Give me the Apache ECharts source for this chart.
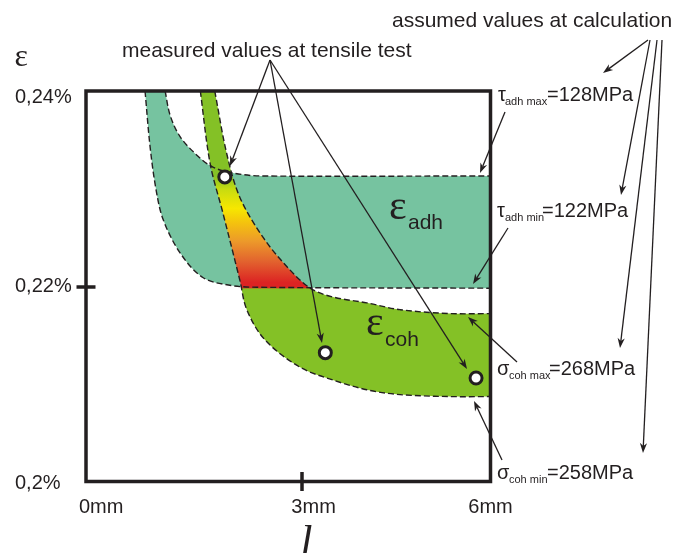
<!DOCTYPE html>
<html><head><meta charset="utf-8">
<script src="https://cdn.jsdelivr.net/npm/echarts@6/dist/echarts.min.js"></script>
<style>html,body{margin:0;padding:0;background:#fff}#c{width:684px;height:553px}</style>
</head><body><div id="c"></div>
<script>
// ---------- data (x: length l in mm, y: strain ε in %) ----------
const xTickValues = [0, 3, 6];
const xTickLabels = ['0mm', '3mm', '6mm'];
const yTickValues = [0.2, 0.22, 0.24];
const yTickLabels = ['0,2%', '0,22%', '0,24%'];

// boundary curves
const tauAdhMax = [[0.82,0.2400],[0.90,0.2375],[1.06,0.2353],[1.33,0.2334],[1.58,0.2322],[1.90,0.2316],[2.33,0.2313],[6.0,0.2313]];
const tauAdhMin = [[0.50,0.2400],[0.58,0.2343],[0.675,0.2299],[0.79,0.2268],[1.06,0.2234],[1.42,0.2209],[1.85,0.2201],[2.28,0.2199],[6.0,0.2198]];
const sigmaCohMax = [[1.61,0.2400],[1.80,0.2336],[2.01,0.2291],[2.38,0.2250],[2.76,0.2220],[3.13,0.2198],[3.49,0.2189],[4.03,0.2183],[4.56,0.2176],[5.36,0.2172],[6.0,0.2172]];
const sigmaCohMin = [[1.38,0.2400],[1.535,0.2326],[1.74,0.2275],[2.01,0.2206],[2.12,0.2176],[2.41,0.2145],[2.97,0.2117],[3.49,0.2104],[4.03,0.2094],[4.56,0.2089],[5.36,0.2087],[6.0,0.2087]];
// measured values at tensile test
const measured = [[1.77,0.2312],[3.37,0.2132],[5.77,0.2106]];

// ---------- styling ----------
const ink = '#231f20';
const teal = '#76c3a0';
const green = '#84c126';
const SANS = '"Liberation Sans", Arial, sans-serif';
const SERIF = '"Liberation Serif", "Times New Roman", serif';

function curvePath(px, first) {
  const n = px.length;
  const tan = px.map((p, i) => {
    const a = px[Math.max(i - 1, 0)], b = px[Math.min(i + 1, n - 1)];
    const dx = b[0] - a[0], dy = b[1] - a[1];
    const L = Math.hypot(dx, dy) || 1;
    return [dx / L, dy / L];
  });
  let d = (first ? 'M' : 'L') + px[0][0] + ' ' + px[0][1];
  for (let i = 0; i < n - 1; i++) {
    const p = px[i], q = px[i + 1];
    const len = Math.hypot(q[0] - p[0], q[1] - p[1]) / 3;
    const c1 = [p[0] + tan[i][0] * len, p[1] + tan[i][1] * len];
    const c2 = [q[0] - tan[i + 1][0] * len, q[1] - tan[i + 1][1] * len];
    d += ' C' + c1[0] + ' ' + c1[1] + ' ' + c2[0] + ' ' + c2[1] + ' ' + q[0] + ' ' + q[1];
  }
  return d;
}
function bandPath(api, upper, lower) {
  const a = upper.map(p => api.coord(p));
  const b = lower.map(p => api.coord(p)).reverse();
  return curvePath(a, true) + ' ' + curvePath(b, false) + ' Z';
}
function dashed(api, pts) {
  return {
    type: 'path',
    shape: { pathData: curvePath(pts.map(p => api.coord(p)), true) },
    style: { fill: 'none', stroke: ink, lineWidth: 1.4, lineDash: [6, 3] }
  };
}

function arrow(x1, y1, x2, y2) {
  const ang = Math.atan2(y2 - y1, x2 - x1), L = 10, W = 3.6;
  const bx = x2 - L * Math.cos(ang), by = y2 - L * Math.sin(ang);
  const nx = -Math.sin(ang) * W, ny = Math.cos(ang) * W;
  const mx = bx + Math.cos(ang) * 3, my = by + Math.sin(ang) * 3;
  return [
    { type: 'line', shape: { x1: x1, y1: y1, x2: mx, y2: my }, style: { stroke: ink, lineWidth: 1.3 }, z: 20 },
    { type: 'polygon', shape: { points: [[x2, y2], [bx + nx, by + ny], [mx, my], [bx - nx, by - ny]] }, style: { fill: ink }, z: 20 }
  ];
}
function txt(text, x, y, size, family, extra) {
  return Object.assign({
    type: 'text', x: x, y: y, z: 20,
    style: {
      text: text, font: size + 'px ' + family, fill: ink,
      align: 'left', verticalAlign: 'middle', textAlign: 'left', textVerticalAlign: 'middle'
    }
  }, extra || {});
}

// annotation layout (pixels)
const arrows = [
  [270, 60, 230, 166], [270, 60, 322, 343], [270, 60, 467, 369],
  [648, 40, 603, 73], [650, 40, 621, 195], [657, 40, 620, 348], [662, 40, 643, 453],
  [505, 112, 480, 173], [508, 228, 473, 284], [517, 362, 468, 317], [502, 460, 474, 401]
];
const graphics = [];
arrows.forEach(a => graphics.push(...arrow(a[0], a[1], a[2], a[3])));
graphics.push(txt('measured values at tensile test', 122, 51, 21, SANS));
graphics.push(txt('assumed values at calculation', 392, 21, 21, SANS));
[
  ['τ', 'adh max', '=128MPa', 102, 498, 505, 547],
  ['τ', 'adh min', '=122MPa', 218, 497, 505, 542],
  ['σ', 'coh max', '=268MPa', 376, 497, 509, 549],
  ['σ', 'coh min', '=258MPa', 480, 497, 509, 547]
].forEach(r => {
  graphics.push(txt(r[0], r[4], r[3] - 6.6, 20, SANS));
  graphics.push(txt(r[1], r[5], r[3] + 4 - 3.6, 11, SANS));
  graphics.push(txt(r[2], r[6], r[3] - 6.6, 20, SANS));
});
graphics.push(txt('ε', 389, 222 - 14, 42, SERIF));
graphics.push(txt('adh', 408, 230 - 7, 21, SANS));
graphics.push(txt('ε', 366, 338 - 14, 42, SERIF));
graphics.push(txt('coh', 385, 347 - 7, 21, SANS));

const chart = echarts.init(document.getElementById('c'), null, { renderer: 'canvas' });
const tickStyle = { color: ink, width: 3.5 };

chart.setOption({
  animation: false,
  backgroundColor: '#fff',
  grid: {
    left: 86, right: 193.5, top: 91, bottom: 71.5, show: true,
    borderColor: ink, borderWidth: 3.5, backgroundColor: 'transparent', z: 5,
    containLabel: false, outerBoundsMode: 'none'
  },
  xAxis: {
    type: 'value', min: -0.44, max: 6, position: 'bottom', offset: 9.5, z: 6,
    splitLine: { show: false }, axisLine: { show: false, onZero: false },
    name: 'l', nameLocation: 'middle', nameGap: 23.5,
    nameTextStyle: { fontFamily: SERIF, fontStyle: 'italic', fontSize: 44, color: ink, padding: [0, 0, 0, 36] },
    axisTick: { show: true, inside: true, length: 19, customValues: [3], lineStyle: tickStyle },
    axisLabel: {
      show: true, customValues: xTickValues, margin: 6.5, color: ink, fontFamily: SANS, fontSize: 20,
      formatter: v => { const i = xTickValues.indexOf(v); return '{l' + i + '|' + xTickLabels[i] + '}'; },
      rich: {
        l0: { fontFamily: SANS, fontSize: 20, color: ink, padding: [0, 25, 0, 0] },
        l1: { fontFamily: SANS, fontSize: 20, color: ink, padding: [0, 0, 0, 23] },
        l2: { fontFamily: SANS, fontSize: 20, color: ink }
      }
    }
  },
  yAxis: {
    type: 'value', min: 0.2, max: 0.24, position: 'left', offset: 9.5, z: 6,
    splitLine: { show: false }, axisLine: { show: false, onZero: false },
    name: 'ε', nameLocation: 'end', nameGap: 17,
    nameTextStyle: { fontFamily: SERIF, fontSize: 32, color: ink, align: 'right', padding: [0, 48.5, 0, 0] },
    axisTick: { show: true, inside: true, length: 19, customValues: [0.22], lineStyle: tickStyle },
    axisLabel: {
      show: true, customValues: yTickValues, align: 'left', margin: 61.5, color: ink, fontFamily: SANS, fontSize: 20,
      formatter: v => { const i = yTickValues.indexOf(v); return '{y' + i + '|' + yTickLabels[i] + '}'; },
      rich: {
        y0: { fontFamily: SANS, fontSize: 20, color: ink, padding: [4, 0, 0, 0] },
        y1: { fontFamily: SANS, fontSize: 20, color: ink },
        y2: { fontFamily: SANS, fontSize: 20, color: ink, padding: [12, 0, 0, 0] }
      }
    }
  },
  series: [
    {
      type: 'custom', name: 'ε adh', silent: true, z: 1,
      data: [tauAdhMax[tauAdhMax.length - 1]],
      renderItem: (params, api) => ({
        type: 'path', shape: { pathData: bandPath(api, tauAdhMax, tauAdhMin) },
        style: { fill: teal, stroke: null }
      })
    },
    {
      type: 'custom', name: 'ε coh', silent: true, z: 2,
      data: [sigmaCohMax[sigmaCohMax.length - 1]],
      renderItem: (params, api) => {
        const yA = api.coord([0, tauAdhMax[tauAdhMax.length - 1][1]])[1];
        const yR = api.coord([0, tauAdhMin[tauAdhMin.length - 1][1]])[1];
        const yB = api.coord([0, sigmaCohMin[sigmaCohMin.length - 1][1]])[1];
        const f = t => (t * (yR - yA)) / (yB - yA);
        const grad = new echarts.graphic.LinearGradient(0, yA, 0, yB, [
          { offset: 0, color: green },
          { offset: f(0.12), color: '#c8dc10' },
          { offset: f(0.29), color: '#f7e700' },
          { offset: f(0.42), color: '#f4c20e' },
          { offset: f(0.58), color: '#ec9a2a' },
          { offset: f(0.76), color: '#e2632e' },
          { offset: f(0.95), color: '#dc2323' },
          { offset: f(1.0), color: '#dc2323' },
          { offset: f(1.0) + 0.002, color: green },
          { offset: 1, color: green }
        ], true);
        return {
          type: 'path', shape: { pathData: bandPath(api, sigmaCohMax, sigmaCohMin) },
          style: { fill: grad, stroke: null }
        };
      }
    },
    {
      type: 'custom', name: 'boundaries', silent: true, z: 3,
      data: [sigmaCohMin[sigmaCohMin.length - 1]],
      renderItem: (params, api) => ({
        type: 'group',
        children: [dashed(api, tauAdhMax), dashed(api, tauAdhMin), dashed(api, sigmaCohMax), dashed(api, sigmaCohMin)]
      })
    },
    {
      type: 'scatter', name: 'measured', z: 8, silent: true,
      data: measured, symbol: 'circle', symbolSize: 12,
      itemStyle: { color: '#fff', borderColor: ink, borderWidth: 3, opacity: 1 }
    }
  ],
  graphic: { elements: graphics }
});
</script>
</body></html>
